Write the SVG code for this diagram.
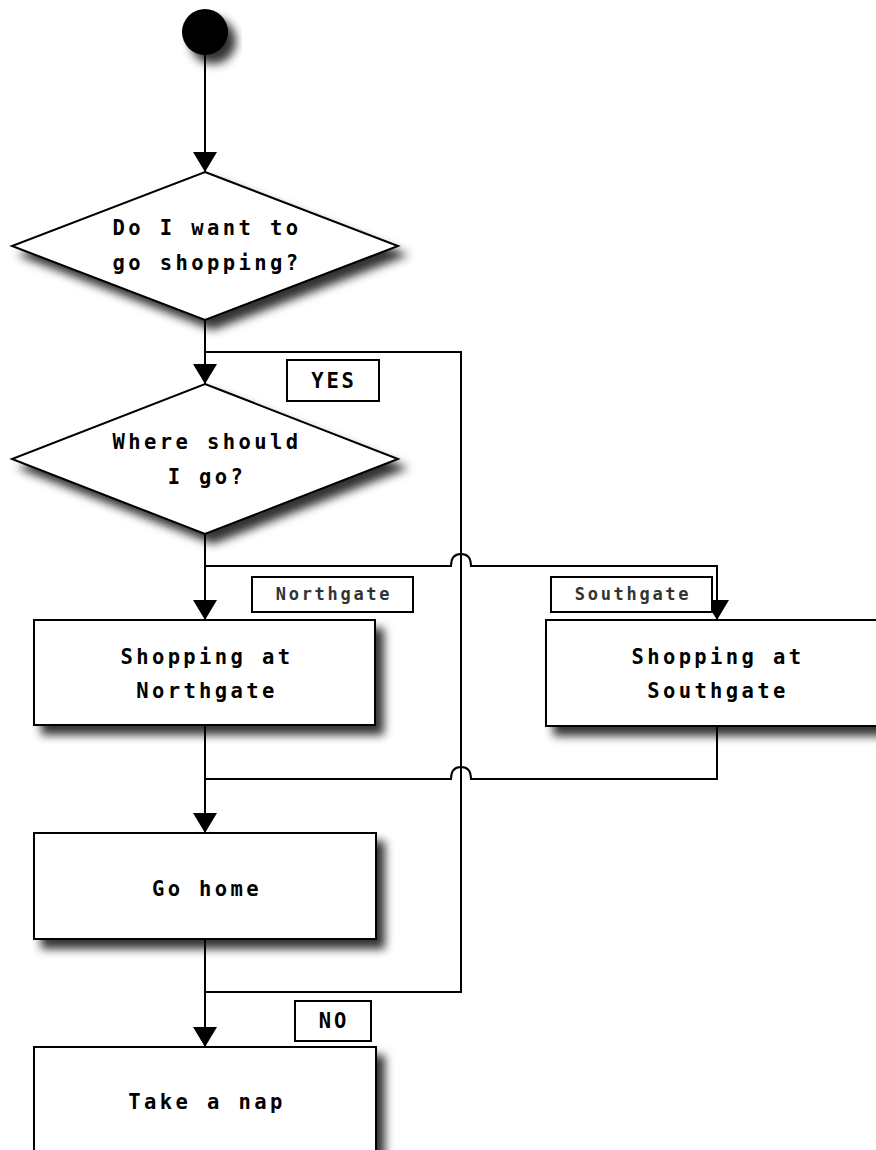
<svg xmlns="http://www.w3.org/2000/svg" width="876" height="1150" viewBox="0 0 876 1150">
<style>
.bg{fill:#fff}
.shape{fill:#fff;stroke:#000;stroke-width:2}
.lbl{fill:#fff;stroke:#000;stroke-width:2}
.conn{fill:none;stroke:#000;stroke-width:2}
.t{font-family:"DejaVu Sans Mono","Liberation Mono",monospace;font-weight:bold;font-size:20.5px;letter-spacing:3.4px;fill:#000;text-anchor:middle}
.tl{font-family:"DejaVu Sans Mono","Liberation Mono",monospace;font-weight:bold;font-size:17px;letter-spacing:2.7px;fill:#333;text-anchor:middle}
.ty{font-family:"DejaVu Sans Mono","Liberation Mono",monospace;font-weight:bold;font-size:20.5px;letter-spacing:2.8px;fill:#000;text-anchor:middle}
</style>
<defs>
<filter id="sh" x="-20%" y="-20%" width="150%" height="160%">
<feDropShadow dx="8" dy="9" stdDeviation="5" flood-color="#000" flood-opacity="0.8"/>
</filter>
<marker id="arr" viewBox="0 -12 20 24" markerWidth="20" markerHeight="24" refX="20" refY="0" orient="auto" markerUnits="userSpaceOnUse">
<path d="M0,-12 L20,0 L0,12 z" fill="#000"/>
</marker>
</defs>
<rect class="bg" x="0" y="0" width="876" height="1150"/>

<g id="connectors">
<path class="conn" d="M205,55 V172" marker-end="url(#arr)"/>
<path class="conn" d="M205,320 V384" marker-end="url(#arr)"/>
<path class="conn" d="M205,352 H461 V992 H205 V1047" marker-end="url(#arr)"/>
<path class="conn" d="M205,534 V620" marker-end="url(#arr)"/>
<path class="conn" d="M205,566 H451 Q451,554 461,554 Q471,554 471,566 H717 V620" marker-end="url(#arr)"/>
<path class="conn" d="M205,725 V833" marker-end="url(#arr)"/>
<path class="conn" d="M717,726 V779 H471 Q471,767 461,767 Q451,767 451,779 H205"/>
<path class="conn" d="M205,939 V992"/>
</g>

<g id="start">
<circle cx="205" cy="32" r="23" fill="#000" filter="url(#sh)"/>
</g>

<g id="decision-shopping">
<polygon class="shape" points="205,172 398,246 205,320 12,246" filter="url(#sh)"/>
<text class="t" x="207" y="235">Do I want to</text>
<text class="t" x="207" y="270">go shopping?</text>
</g>

<g id="label-yes">
<rect class="lbl" x="287" y="360" width="92" height="41"/>
<text class="ty" x="334" y="388">YES</text>
</g>

<g id="decision-where">
<polygon class="shape" points="205,384 398,459 205,534 12,459" filter="url(#sh)"/>
<text class="t" x="207" y="449">Where should</text>
<text class="t" x="207" y="484">I go?</text>
</g>

<g id="label-northgate">
<rect class="lbl" x="252" y="577" width="161" height="35"/>
<text class="tl" x="334" y="600">Northgate</text>
</g>

<g id="label-southgate">
<rect class="lbl" x="551" y="577" width="161" height="35"/>
<text class="tl" x="633" y="600">Southgate</text>
</g>

<g id="shop-northgate">
<rect class="shape" x="34" y="620" width="341" height="105" filter="url(#sh)"/>
<text class="t" x="207" y="664">Shopping at</text>
<text class="t" x="207" y="698">Northgate</text>
</g>

<g id="shop-southgate">
<rect class="shape" x="546" y="620" width="342" height="106" filter="url(#sh)"/>
<text class="t" x="718" y="664">Shopping at</text>
<text class="t" x="718" y="698">Southgate</text>
</g>

<g id="go-home">
<rect class="shape" x="34" y="833" width="342" height="106" filter="url(#sh)"/>
<text class="t" x="207" y="896">Go home</text>
</g>

<g id="label-no">
<rect class="lbl" x="295" y="1001" width="76" height="40"/>
<text class="ty" x="334" y="1028">NO</text>
</g>

<g id="take-nap">
<rect class="shape" x="34" y="1047" width="342" height="106" filter="url(#sh)"/>
<text class="t" x="207" y="1109">Take a nap</text>
</g>
</svg>
